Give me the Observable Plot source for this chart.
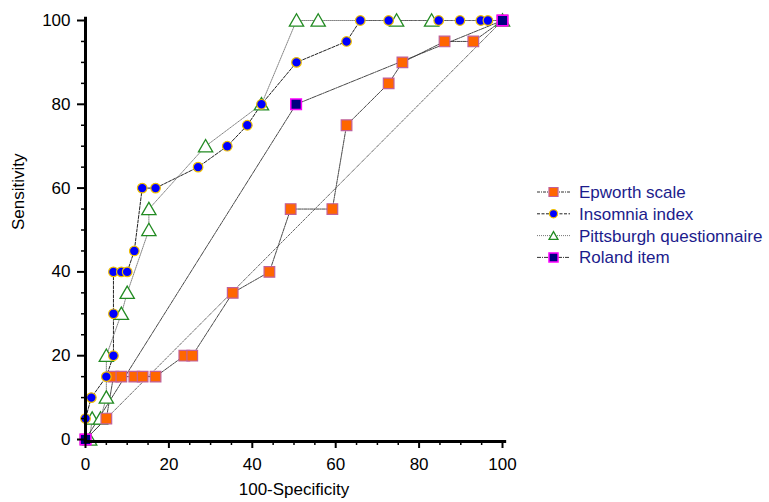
<!DOCTYPE html>
<html>
<head>
<meta charset="utf-8">
<script src="https://cdn.jsdelivr.net/npm/d3@7"></script>
<script src="https://cdn.jsdelivr.net/npm/@observablehq/plot@0.6"></script>
<style>
  body { margin: 0; background: #fff; }
  #wrap { position: relative; width: 769px; height: 502px; font-family: "Liberation Sans", Arial, sans-serif; }
  #legend { position: absolute; left: 530px; top: 178px; }
</style>
</head>
<body>
<div id="wrap"><div id="chart"></div><svg id="legend" width="239" height="92"></svg></div>
<script>
// Series names
const seriesNames = ["Epworth scale", "Insomnia index", "Pittsburgh questionnaire", "Roland item"];

// Epworth scale (100-Specificity, Sensitivity)
const epworthX = [0, 5, 6.7, 8.6, 11.7, 13.7, 16.8, 23.7, 25.6, 35.3, 44.1, 49.2, 59.2, 62.6, 72.7, 76, 86.1, 93, 100];
const epworthY = [0, 5, 15, 15, 15, 15, 15, 20, 20, 35, 40, 55, 55, 75, 85, 90, 95, 95, 100];

// Insomnia index
const insomniaX = [0, 0, 1.4, 5, 6.7, 6.7, 6.7, 8.6, 10, 11.7, 13.6, 16.8, 27, 34, 38.8, 42.2, 50.6, 62.6, 65.9, 72.7, 84.7, 89.8, 94.8, 96.5, 100];
const insomniaY = [0, 5, 10, 15, 20, 30, 40, 40, 40, 45, 60, 60, 65, 70, 75, 80, 90, 95, 100, 100, 100, 100, 100, 100, 100];

// Pittsburgh questionnaire
const pittsburghX = [1, 1.6, 3.6, 5, 5, 8.6, 10, 15.2, 15.2, 28.8, 42.2, 50.6, 55.8, 74.6, 83, 100];
const pittsburghY = [0, 5, 5, 10, 20, 30, 35, 50, 55, 70, 80, 100, 100, 100, 100, 100];

// Roland item
const rolandX = [0, 50.5, 100];
const rolandY = [0, 80, 100];

// Chance diagonal
const diagX = [0, 100];
const diagY = [0, 100];

// Tick values
const majorTicks = [0, 20, 40, 60, 80, 100];
const minorTicks = [5, 10, 15, 25, 30, 35, 45, 50, 55, 65, 70, 75, 85, 90, 95];

const toRows = (xs, ys) => xs.map((x, i) => ({x, y: ys[i]}));
const ep = toRows(epworthX, epworthY);
const ins = toRows(insomniaX, insomniaY);
const pit = toRows(pittsburghX, pittsburghY);
const rol = toRows(rolandX, rolandY);
const diag = toRows(diagX, diagY);

const styles = [
  {symbol: "square", r: 6, fill: "#ff6600", stroke: "#c0609a", sw: 1.2, dash: "3,1,1,1", line: "#333", lw: 0.9},
  {symbol: "circle", r: 4.8, fill: "#0000ff", stroke: "#f0c000", sw: 1.2, dash: "3,1.5", line: "#222", lw: 1},
  {symbol: "triangle", r: 5.3, fill: "#ffffff", stroke: "#228b22", sw: 1.3, dash: "1,1", line: "#777", lw: 0.9},
  {symbol: "square", r: 6, fill: "#000080", stroke: "#ff00ff", sw: 1.5, dash: "4,1,1,1", line: "#333", lw: 0.9}
];
const sets = [ep, ins, pit, rol];

const lineMarks = sets.map((d, i) => Plot.line(d, {x: "x", y: "y", stroke: styles[i].line, strokeWidth: styles[i].lw, strokeDasharray: styles[i].dash}));
const dotOrder = [2, 0, 1, 3];
const dotMarks = dotOrder.map(i => Plot.dot(sets[i], {
  x: "x", y: "y", symbol: styles[i].symbol, r: styles[i].r,
  fill: styles[i].fill, stroke: styles[i].stroke, strokeWidth: styles[i].sw,
  dy: styles[i].symbol === "triangle" ? 1.5 : 0
}));

const chart = Plot.plot({
  width: 769, height: 502,
  marginLeft: 85, marginRight: 267, marginTop: 20, marginBottom: 63,
  x: {domain: [0, 100], label: null},
  y: {domain: [0, 100], label: null},
  style: {fontFamily: "'Liberation Sans', Arial, sans-serif", color: "#000", background: "#fff"},
  marks: [
    Plot.line(diag, {x: "x", y: "y", stroke: "#444", strokeWidth: 0.8, strokeDasharray: "3,1.5,1,1.5"}),
    ...lineMarks,
    ...dotMarks,
    Plot.axisY({ticks: majorTicks, tickSize: 8, tickPadding: 7, fontSize: 17, strokeWidth: 2, label: null}),
    Plot.axisY({ticks: minorTicks, tickSize: 4, tickFormat: () => "", strokeWidth: 1.5, label: null}),
    Plot.axisX({ticks: majorTicks, tickSize: 7, tickPadding: 9, fontSize: 17, strokeWidth: 2, label: null, dy: 2}),
    Plot.axisX({ticks: minorTicks, tickSize: 4, tickFormat: () => "", strokeWidth: 1.5, label: null, dy: 2}),
    Plot.ruleX([0], {y1: -0.6, y2: 100.8, stroke: "#000", strokeWidth: 3}),
    Plot.ruleY([-0.5], {x1: -0.3, x2: 101, stroke: "#000", strokeWidth: 3}),
    Plot.text(["Sensitivity"], {frameAnchor: "left", dx: -67, rotate: -90, fontSize: 17, fill: "#000"}),
    Plot.text(["100-Specificity"], {frameAnchor: "bottom", dy: 55, fontSize: 17, fill: "#000"})
  ]
});
document.getElementById("chart").appendChild(chart);

// Legend
const lg = d3.select("#legend");
const symMap = {square: d3.symbolSquare, circle: d3.symbolCircle, triangle: d3.symbolTriangle2 || d3.symbolTriangle};
const lgScale = [0.85, 0.85, 0.8, 0.85];
seriesNames.forEach((name, i) => {
  const yy = 14 + i * 21.8;
  const g = lg.append("g").attr("transform", `translate(0,${yy})`);
  g.append("line").attr("x1", 7).attr("x2", 40).attr("y1", 0).attr("y2", 0)
    .attr("stroke", styles[i].line).attr("stroke-width", 1).attr("stroke-dasharray", styles[i].dash);
  const rr = styles[i].r * lgScale[i];
  g.append("path").attr("d", d3.symbol(symMap[styles[i].symbol], Math.PI * rr * rr)())
    .attr("transform", `translate(23.5,${styles[i].symbol === "triangle" ? 1.2 : 0})`)
    .attr("fill", styles[i].fill).attr("stroke", styles[i].stroke).attr("stroke-width", styles[i].sw);
  g.append("text").attr("x", 49).attr("y", 0).attr("dy", "0.35em")
    .attr("font-size", 17).attr("fill", "#1c1c8c")
    .attr("font-family", "'Liberation Sans', Arial, sans-serif").text(name);
});
</script>
</body>
</html>
